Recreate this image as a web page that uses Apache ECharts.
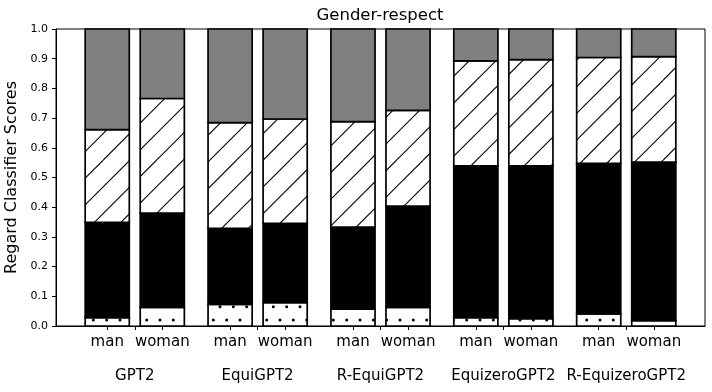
<!DOCTYPE html>
<html>
<head>
<meta charset="utf-8">
<script src="https://cdn.jsdelivr.net/npm/echarts@6/dist/echarts.min.js"></script>
<style>
  html, body { margin: 0; padding: 0; background: #fff; }
  #main { width: 712px; height: 392px; }
</style>
</head>
<body>
<div id="main"></div>
<script>
var groups = ['GPT2', 'EquiGPT2', 'R-EquiGPT2', 'EquizeroGPT2', 'R-EquizeroGPT2'];
var genders = ['man', 'woman'];

// segment heights, bottom to top, order: man/woman per group
var dotted  = [0.028, 0.063, 0.073, 0.079, 0.057, 0.063, 0.028, 0.025, 0.041, 0.018];
var black   = [0.321, 0.317, 0.256, 0.267, 0.276, 0.341, 0.511, 0.514, 0.507, 0.534];
var hatched = [0.312, 0.386, 0.356, 0.351, 0.355, 0.322, 0.354, 0.358, 0.356, 0.355];
var gray    = [0.339, 0.234, 0.315, 0.303, 0.312, 0.274, 0.107, 0.103, 0.096, 0.093];

var FONT = 'DejaVu Sans';
var OFF = 0.224;      // man / woman offset from group centre
var PAD = 0.641;      // x margin each side
var BAR_W = 0.359;    // bar width in x units

// bar centres and group centres on the x value axis
var barPos = [];
var barLbl = [];
var groupPos = [];
groups.forEach(function (g, gi) {
  groupPos.push(gi);
  genders.forEach(function (s, si) {
    barPos.push(gi + (si === 0 ? -OFF : OFF));
    barLbl.push(s);
  });
});

function findIdx(list, v) {
  for (var i = 0; i < list.length; i++) {
    if (Math.abs(list[i] - v) < 1e-6) return i;
  }
  return -1;
}

// '/' hatch, line spacing 80/3 px, tile 80x80
function hatchCanvas() {
  var c = document.createElement('canvas');
  c.width = 80; c.height = 80;
  var ctx = c.getContext('2d');
  ctx.fillStyle = '#fff';
  ctx.fillRect(0, 0, 80, 80);
  ctx.strokeStyle = '#000';
  ctx.lineWidth = 1.1;
  var s = 80 / 3;
  for (var k = -4; k <= 7; k++) {
    var d = 70 / 3 + k * s;    // x + y = d
    ctx.beginPath();
    ctx.moveTo(d - 80, 80);
    ctx.lineTo(d, 0);
    ctx.stroke();
  }
  return c;
}
// '.' hatch, staggered dots every 40/3 px, tile 40x80
function dotCanvas() {
  var c = document.createElement('canvas');
  c.width = 40; c.height = 80;
  var ctx = c.getContext('2d');
  ctx.fillStyle = '#fff';
  ctx.fillRect(0, 0, 40, 80);
  ctx.fillStyle = '#000';
  var s = 40 / 3;
  for (var r = 0; r <= 6; r++) {
    for (var j = -1; j <= 3; j++) {
      var x = j * s + (r % 2) * s / 2;
      var y = r * s;
      ctx.beginPath();
      ctx.arc(x, y, 1.5, 0, Math.PI * 2);
      ctx.fill();
    }
  }
  return c;
}

// stack the segments: [x, bottom, top]
var layers = [dotted, black, hatched, gray];
var fills = [
  { image: dotCanvas(), repeat: 'repeat' },
  '#000',
  { image: hatchCanvas(), repeat: 'repeat' },
  '#808080'
];
var base = barPos.map(function () { return 0; });
var series = layers.map(function (vals, li) {
  var data = vals.map(function (v, i) {
    var d = [barPos[i], base[i], base[i] + v];
    base[i] += v;
    return d;
  });
  return {
    type: 'custom',
    xAxisIndex: 0,
    encode: { x: 0, y: [1, 2] },
    data: data,
    renderItem: function (params, api) {
      var p0 = api.coord([api.value(0), api.value(1)]);
      var p1 = api.coord([api.value(0), api.value(2)]);
      var w = api.size([BAR_W, 0])[0];
      return {
        type: 'rect',
        shape: { x: p0[0] - w / 2, y: p1[1], width: w, height: p0[1] - p1[1] },
        style: { fill: fills[li], stroke: '#000', lineWidth: 1.7 }
      };
    }
  };
});

var myChart = echarts.init(document.getElementById('main'), null, { renderer: 'canvas' });

myChart.setOption({
  animation: false,
  backgroundColor: '#fff',
  textStyle: { fontFamily: FONT },
  grid: {
    left: 56, right: 7, top: 29, bottom: 66,
    containLabel: false,
    outerBoundsMode: 'none',
    show: true, borderColor: '#000', borderWidth: 1
  },
  graphic: [{
    type: 'text',
    x: 380, y: 16,
    style: {
      text: 'Gender-respect',
      fontFamily: FONT, fontSize: 16.5,
      fill: '#000',
      textAlign: 'center', textVerticalAlign: 'middle'
    }
  }],
  xAxis: [
    {
      type: 'value',
      min: -PAD, max: groups.length - 1 + PAD,
      axisLine: { onZero: false, lineStyle: { color: '#000', width: 1 } },
      axisTick: { customValues: barPos, length: 4, lineStyle: { color: '#000' } },
      axisLabel: {
        customValues: barPos,
        formatter: function (v) { return barLbl[findIdx(barPos, v)]; },
        fontSize: 15, color: '#000', margin: 9, fontFamily: FONT
      },
      splitLine: { show: false }
    },
    {
      type: 'value',
      position: 'bottom',
      min: -PAD, max: groups.length - 1 + PAD,
      axisLine: { show: false, onZero: false },
      axisTick: { customValues: groupPos, length: 4, lineStyle: { color: '#000' } },
      axisLabel: {
        customValues: groupPos,
        formatter: function (v) { return groups[findIdx(groupPos, v)]; },
        fontSize: 15, color: '#000', margin: 43, fontFamily: FONT
      },
      splitLine: { show: false }
    }
  ],
  yAxis: {
    type: 'value',
    min: 0, max: 1, interval: 0.1,
    name: 'Regard Classifier Scores',
    nameLocation: 'middle',
    nameGap: 22,
    nameTextStyle: { fontSize: 16, color: '#000', fontFamily: FONT },
    axisLine: { show: true, onZero: false, lineStyle: { color: '#000', width: 1 } },
    axisTick: { show: true, length: 4, lineStyle: { color: '#000' } },
    axisLabel: {
      formatter: function (v) { return v.toFixed(1); },
      fontSize: 11, color: '#000', margin: 8, fontFamily: FONT
    },
    splitLine: { show: false }
  },
  series: series
});
</script>
</body>
</html>
